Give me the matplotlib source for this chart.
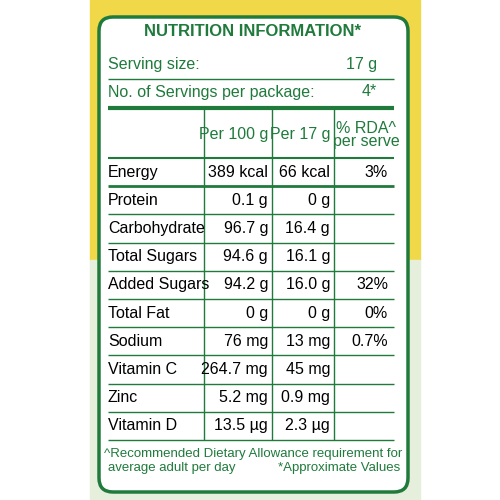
import matplotlib
matplotlib.use("Agg")
import matplotlib.pyplot as plt
from matplotlib.patches import FancyBboxPatch, Rectangle

nutrients = ["Energy","Protein","Carbohydrate","Total Sugars","Added Sugars","Total Fat","Sodium","Vitamin C","Zinc","Vitamin D"]
per100 = ["389 kcal","0.1 g","96.7 g","94.6 g","94.2 g","0 g","76 mg","264.7 mg","5.2 mg","13.5 µg"]
per17 = ["66 kcal","0 g","16.4 g","16.1 g","16.0 g","0 g","13 mg","45 mg","0.9 mg","2.3 µg"]
rda = ["3%","","","","32%","0%","0.7%","","",""]
headers = ["Per 100 g","Per 17 g","% RDA^\nper serve"]

G = "#1f7a3c"
plt.rcParams['font.family'] = ['Liberation Sans', 'DejaVu Sans']
fig = plt.figure(figsize=(5,5), dpi=100)
ax = fig.add_axes([0,0,1,1])
ax.set_xlim(0,500); ax.set_ylim(500,0); ax.axis('off')
ax.add_patch(Rectangle((90,0),330,260,color="#f0d848"))
ax.add_patch(Rectangle((90,260),330,240,color="#e6eedc"))
ax.add_patch(FancyBboxPatch((99,17),309,475,boxstyle="round,pad=0,rounding_size=14",fc="white",ec=G,lw=2.5))

fs = 11.5
ax.text(253,31,"NUTRITION INFORMATION*",ha='center',va='center',color=G,fontsize=12,fontweight='bold')
ax.text(108,65,"Serving size:",va='center',color=G,fontsize=fs)
ax.text(377,65,"17 g",ha='right',va='center',color=G,fontsize=fs)
ax.hlines(79,108,394,color=G,lw=1)
ax.text(108,92,"No. of Servings per package:",va='center',color=G,fontsize=fs)
ax.text(377,92,"4*",ha='right',va='center',color=G,fontsize=fs)
ax.hlines(108,108,394,color=G,lw=3)
cols = [204,272,334]
ax.vlines(cols,108,440,color=G,lw=1)
ax.text(268,135,headers[0],ha='right',va='center',color=G,fontsize=fs)
ax.text(330,135,headers[1],ha='right',va='center',color=G,fontsize=fs)
ax.text(366,135,headers[2],ha='center',va='center',color=G,fontsize=fs,linespacing=0.85)
ax.hlines(158,108,394,color=G,lw=1.5)
y0, dy = 158, 28.2
for i,n in enumerate(nutrients):
    yc = y0 + dy*(i+0.5)
    ax.text(108,yc,n,va='center',color='black',fontsize=fs)
    ax.text(268,yc,per100[i],ha='right',va='center',color='black',fontsize=fs)
    ax.text(330,yc,per17[i],ha='right',va='center',color='black',fontsize=fs)
    ax.text(388,yc,rda[i],ha='right',va='center',color='black',fontsize=fs)
    ax.hlines(y0+dy*(i+1),108,394,color=G,lw=2 if i==0 else 1)
ax.text(104,454,"^Recommended Dietary Allowance requirement for",va='center',color=G,fontsize=9.5)
ax.text(108,468,"average adult per day",va='center',color=G,fontsize=9.5)
ax.text(400,468,"*Approximate Values",ha='right',va='center',color=G,fontsize=9.5)
fig.savefig("out.png",dpi=100)
